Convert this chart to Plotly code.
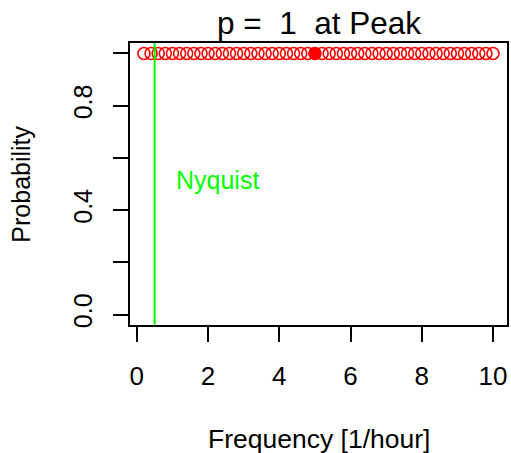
import plotly.graph_objects as go

# Data
frequency = [0.2, 0.4, 0.6, 0.8, 1.0, 1.2, 1.4, 1.6, 1.8, 2.0,
             2.2, 2.4, 2.6, 2.8, 3.0, 3.2, 3.4, 3.6, 3.8, 4.0,
             4.2, 4.4, 4.6, 4.8, 5.0, 5.2, 5.4, 5.6, 5.8, 6.0,
             6.2, 6.4, 6.6, 6.8, 7.0, 7.2, 7.4, 7.6, 7.8, 8.0,
             8.2, 8.4, 8.6, 8.8, 9.0, 9.2, 9.4, 9.6, 9.8, 10.0]
probability = [1, 1, 1, 1, 1, 1, 1, 1, 1, 1,
               1, 1, 1, 1, 1, 1, 1, 1, 1, 1,
               1, 1, 1, 1, 1, 1, 1, 1, 1, 1,
               1, 1, 1, 1, 1, 1, 1, 1, 1, 1,
               1, 1, 1, 1, 1, 1, 1, 1, 1, 1]
peak_freq = [5.0]
peak_prob = [1.0]
nyquist = 0.5
nyquist_label_y = 0.5
x_ticks = [0, 2, 4, 6, 8, 10]
x_tick_labels = ["0", "2", "4", "6", "8", "10"]
y_ticks = [0.0, 0.2, 0.4, 0.6, 0.8, 1.0]
y_tick_labels = ["0.0", "", "0.4", "", "0.8", ""]
title_text = "p =\u00a0 1\u00a0 at Peak"

FONT = "Liberation Sans, Arial, sans-serif"

fig = go.Figure()
fig.add_trace(go.Scatter(
    x=frequency, y=probability, mode="markers",
    marker=dict(symbol="circle-open", size=12, color="#FF0000",
                line=dict(width=1.6, color="#FF0000")),
    showlegend=False, hoverinfo="skip"))
fig.add_trace(go.Scatter(
    x=peak_freq, y=peak_prob, mode="markers",
    marker=dict(symbol="circle", size=12, color="#FF0000"),
    showlegend=False, hoverinfo="skip"))

fig.add_shape(type="line", xref="x", yref="paper", x0=nyquist, x1=nyquist,
              y0=0, y1=1, line=dict(color="#00FF00", width=2))

fig.add_annotation(x=nyquist, y=nyquist_label_y, xref="x", yref="y",
                   text="Nyquist", showarrow=False, xanchor="left",
                   yanchor="middle", xshift=19, yshift=4,
                   font=dict(family=FONT, size=25, color="#00FF00"))

# Title and axis titles
fig.add_annotation(x=0.5, y=1, xref="paper", yref="paper", text=title_text,
                   showarrow=False, xanchor="center", yanchor="bottom", yshift=0,
                   font=dict(family=FONT, size=31.5, color="black"))
fig.add_annotation(x=0.5, y=-0.404, xref="paper", yref="paper",
                   text="Frequency [1/hour]", showarrow=False,
                   xanchor="center", yanchor="middle",
                   font=dict(family=FONT, size=26.5, color="black"))
fig.add_annotation(x=-0.29, y=0.5, xref="paper", yref="paper",
                   text="Probability", showarrow=False, textangle=-90,
                   xanchor="center", yanchor="middle",
                   font=dict(family=FONT, size=25, color="black"))

fig.update_layout(
    width=511, height=453,
    margin=dict(l=130, r=2, t=43, b=128),
    paper_bgcolor="white", plot_bgcolor="white",
    font=dict(family=FONT, size=24, color="black"),
    xaxis=dict(range=[-0.192, 10.392], tickvals=x_ticks, ticktext=x_tick_labels,
               ticks="outside", ticklen=15, tickwidth=1.5, tickcolor="black",
               ticklabelstandoff=12,
               showline=True, linecolor="black", linewidth=1.5, mirror=True,
               showgrid=False, zeroline=False,
               tickfont=dict(family=FONT, size=26, color="black")),
    yaxis=dict(range=[-0.04, 1.04], tickvals=y_ticks, ticktext=y_tick_labels,
               ticks="outside", ticklen=15, tickwidth=1.5, tickcolor="black",
               tickangle=-90, ticklabelstandoff=11,
               showline=True, linecolor="black", linewidth=1.5, mirror=True,
               showgrid=False, zeroline=False,
               tickfont=dict(family=FONT, size=25, color="black")),
)

# Remove the default page margin so the figure fills the window exactly
fig.write_html(
    "out.html",
    config={"displayModeBar": False},
    post_script="document.body.style.margin='0';document.body.style.overflow='hidden';",
)
